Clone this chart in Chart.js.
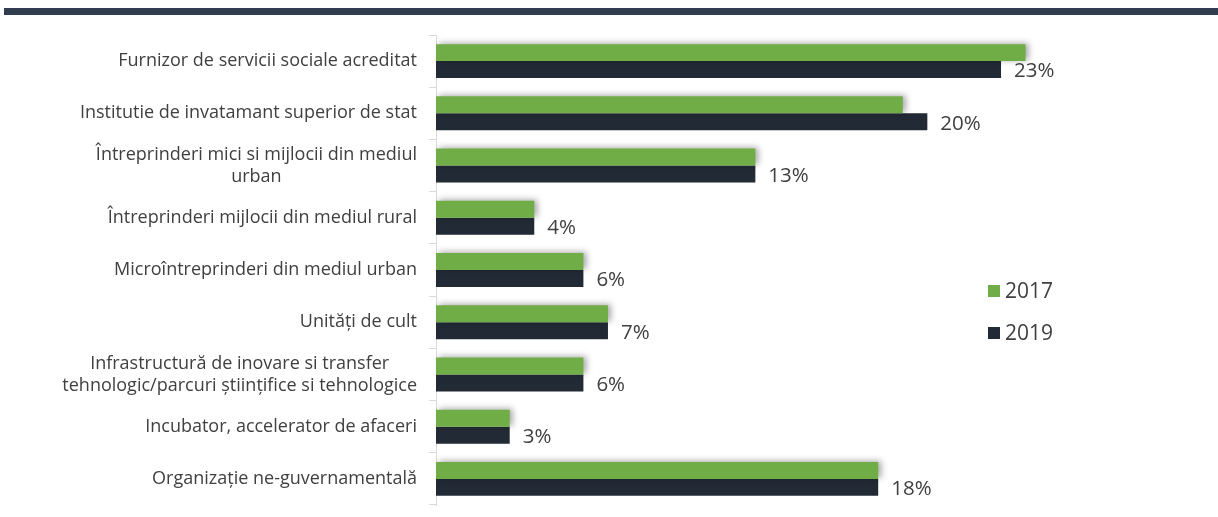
<!DOCTYPE html>
<html>
<head>
<meta charset="utf-8">
<script src="https://cdn.jsdelivr.net/npm/chart.js@4"></script>
<style>
  body { margin: 0; background: #fff; }
  #band { position: absolute; left: 4px; top: 8px; width: 1214px; height: 7px; background: #323e4f; }
  #wrap { position: absolute; left: 0; top: 0; width: 1218px; height: 517px; }
</style>
</head>
<body>
<div id="band"></div>
<div id="wrap"><canvas id="chart"></canvas></div>
<script>
const categories = [
    ['Furnizor de servicii sociale acreditat'],
    ['Institutie de invatamant superior de stat'],
    ['Întreprinderi mici si mijlocii din mediul', 'urban'],
    ['Întreprinderi mijlocii din mediul rural'],
    ['Microîntreprinderi din mediul urban'],
    ['Unități de cult'],
    ['Infrastructură de inovare si transfer', 'tehnologic/parcuri științifice si tehnologice'],
    ['Incubator, accelerator de afaceri'],
    ['Organizație ne-guvernamentală']
];
const values2017 = [24, 19, 13, 4, 6, 7, 6, 3, 18];
const values2019 = [23, 20, 13, 4, 6, 7, 6, 3, 18];
const seriesNames = ['2017', '2019'];
const colors = ['#70ad47', '#222a35'];

const textColor = '#404040';
const fontFamily = '"Open Sans", Lato, sans-serif';

// soft shadow behind the green bars, like the original
const shadowPlugin = {
    id: 'shadow',
    beforeDatasetDraw(chart, args) {
        if (args.index !== 0) return;
        const ctx = chart.ctx;
        ctx.save();
        ctx.shadowColor = 'rgba(0,0,0,0.35)';
        ctx.shadowBlur = 6;
        ctx.shadowOffsetX = 3;
        ctx.shadowOffsetY = -1;
    },
    afterDatasetDraw(chart, args) {
        if (args.index !== 0) return;
        chart.ctx.restore();
    }
};

// category labels: block right-aligned, lines centred inside the block
const labelPlugin = {
    id: 'catLabels',
    afterDraw(chart) {
        const ctx = chart.ctx;
        const yScale = chart.scales.y;
        const right = 417, lineH = 22;
        ctx.save();
        ctx.font = '18px ' + fontFamily;
        ctx.fillStyle = textColor;
        ctx.textAlign = 'center';
        ctx.textBaseline = 'middle';
        chart.data.labels.forEach((lines, i) => {
            const y = yScale.getPixelForTick(i);
            const w = Math.max(...lines.map(l => ctx.measureText(l).width));
            const cx = right - w / 2;
            lines.forEach((l, j) => {
                ctx.fillText(l, cx, y + (j - (lines.length - 1) / 2) * lineH);
            });
        });

        // value labels on the 2019 bars
        ctx.font = '20.5px ' + fontFamily;
        ctx.textAlign = 'left';
        chart.getDatasetMeta(1).data.forEach((bar, i) => {
            ctx.fillText(values2019[i] + '%', bar.x + 13, bar.y + 2);
        });

        // legend on the right
        ctx.font = '21px ' + fontFamily;
        chart.data.datasets.forEach((ds, i) => {
            const y = 291 + i * 42;
            ctx.fillStyle = ds.backgroundColor;
            ctx.fillRect(988, y - 6, 12, 12);
            ctx.fillStyle = textColor;
            ctx.fillText(ds.label, 1005, y + 1);
        });
        ctx.restore();
    }
};

new Chart(document.getElementById('chart'), {
    type: 'bar',
    data: {
        labels: categories,
        datasets: [
            { label: seriesNames[0], data: values2017, backgroundColor: colors[0],
              categoryPercentage: 0.65, barPercentage: 1 },
            { label: seriesNames[1], data: values2019, backgroundColor: colors[1],
              categoryPercentage: 0.65, barPercentage: 1 }
        ]
    },
    options: {
        indexAxis: 'y',
        responsive: true,
        maintainAspectRatio: false,
        animation: false,
        layout: { padding: { top: 35, bottom: 12, right: 45, left: 0 } },
        plugins: { legend: { display: false }, tooltip: { enabled: false } },
        scales: {
            x: { display: false, min: 0, max: 30 },
            y: {
                afterFit(scale) { scale.width = 436; },
                border: { display: true, color: '#d9d9d9' },
                grid: { offset: true, drawOnChartArea: false, tickLength: 7, color: '#d9d9d9' },
                ticks: { display: false }
            }
        }
    },
    plugins: [shadowPlugin, labelPlugin]
});
</script>
</body>
</html>
